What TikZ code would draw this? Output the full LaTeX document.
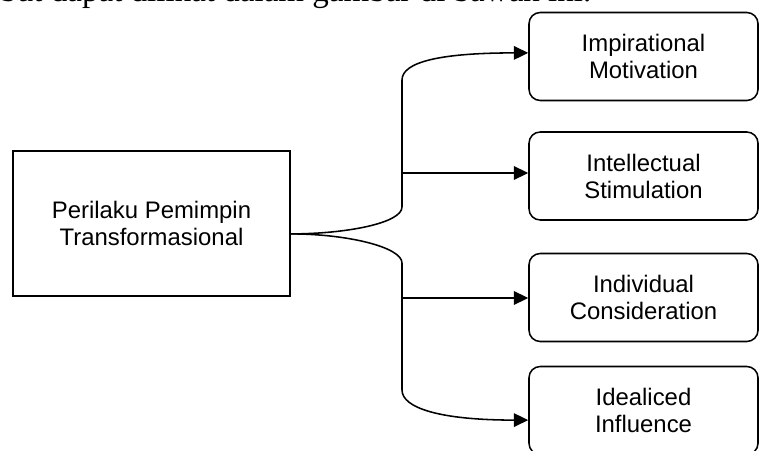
\documentclass[tikz,border=0pt]{standalone}
\usepackage{fontspec}
\setmainfont{Liberation Sans}
\newfontfamily\bodyfont{Liberation Serif}
\usetikzlibrary{arrows.meta}

\begin{document}
\begin{tikzpicture}[>={Triangle[length=0.36cm,width=0.34cm]}, line width=1.1pt,
    dim/.style={draw, rectangle, rounded corners=0.28cm, minimum width=5.725cm, minimum height=2.2cm, align=center, font=\fontsize{17}{19.2}\selectfont}]
    \useasboundingbox (0,0) rectangle (19,11.25);
    \clip (0,0) rectangle (19,11.25);

    % kalimat di atas gambar (terpotong)
    \node[anchor=base east, inner sep=0pt, font=\bodyfont\fontsize{23.5}{28}\selectfont] (para) at (14.8,11.2) {tersebut dapat dilihat dalam gambar di bawah ini.};

    % variabel utama
    \node[draw, rectangle, minimum width=6.925cm, minimum height=3.625cm, align=center, font=\fontsize{17}{19.2}\selectfont] (lead) at (3.7875,5.6625) {Perilaku Pemimpin\\Transformasional};

    % dimensi
    \node[dim] (im) at (16.0875,9.8375) {Impirational\\Motivation};
    \node[dim] (is) at (16.0875,6.85) {Intellectual\\Stimulation};
    \node[dim] (ic) at (16.0875,3.8125) {Individual\\Consideration};
    \node[dim] (id) at (16.0875,0.9875) {Idealiced\\Influence};

    % titik cabang
    \coordinate (src) at ([yshift=-0.26cm]lead.east);
    \coordinate (t1) at (10.05,9.25);
    \coordinate (t2) at (10.05,6.075);
    \coordinate (t3) at (10.05,4.675);
    \coordinate (t4) at (10.05,1.5);
    \coordinate (j2) at (10.05,6.925);
    \coordinate (j3) at (10.05,3.8);

    % panah
    \draw[->] (src) .. controls +(1.4,0) and +(0,-0.4) .. (t2) -- (t1) .. controls +(0,0.45) and +(-2.2,0) .. ([yshift=0.09cm]im.west);
    \draw[->] (src) .. controls +(1.4,0) and +(0,0.4) .. (t3) -- (t4) .. controls +(0,-0.45) and +(-2.2,0) .. ([yshift=-0.24cm]id.west);
    \draw[->] (j2) -- (j2 -| is.west);
    \draw[->] (j3) -- (j3 -| ic.west);
\end{tikzpicture}
\end{document}
